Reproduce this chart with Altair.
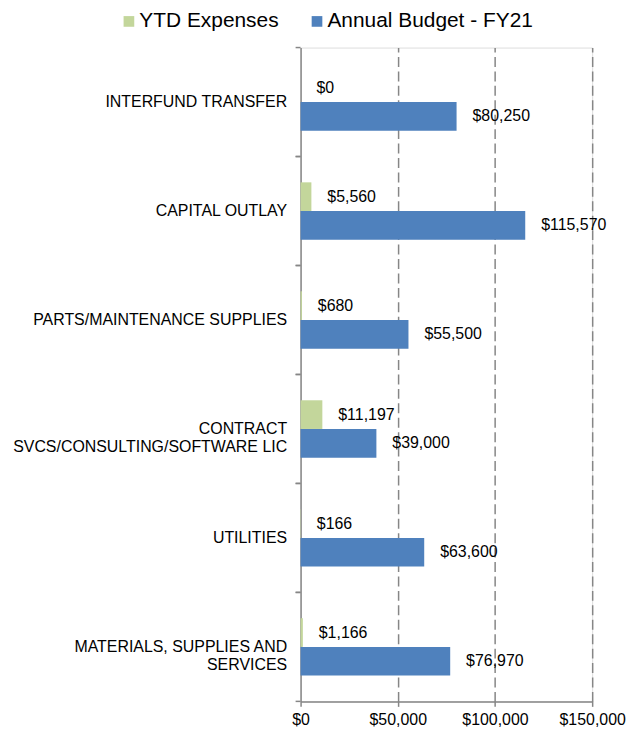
import json
import altair as alt
import pandas as pd

# ---- data ----
categories = [
    "INTERFUND TRANSFER",
    "CAPITAL OUTLAY",
    "PARTS/MAINTENANCE SUPPLIES",
    "CONTRACT SVCS/CONSULTING/SOFTWARE LIC",
    "UTILITIES",
    "MATERIALS, SUPPLIES AND SERVICES",
]
ytd_expenses = [0, 5560, 680, 11197, 166, 1166]
annual_budget = [80250, 115570, 55500, 39000, 63600, 76970]
series_names = ["YTD Expenses", "Annual Budget - FY21"]
x_ticks = [0, 50000, 100000, 150000]

# ---- style ----
FONT = "Liberation Sans"
GREEN = "#C3D69B"
BLUE = "#4F81BD"
GRAY = "#868686"
NBSP = "\u00a0"

# line breaks of the long category labels (centred lines inside a right-aligned block)
label_lines = {
    "CONTRACT SVCS/CONSULTING/SOFTWARE LIC": ["CONTRACT" + NBSP * 21, "SVCS/CONSULTING/SOFTWARE LIC"],
    "MATERIALS, SUPPLIES AND SERVICES": ["MATERIALS, SUPPLIES AND", "SERVICES" + NBSP * 15],
}
expr = "datum.value"
for k, v in label_lines.items():
    expr = f"datum.value == {json.dumps(k, ensure_ascii=False)} ? {json.dumps(v, ensure_ascii=False)} : ({expr})"

rows = []
for c, a, b in zip(categories, ytd_expenses, annual_budget):
    rows.append({"category": c, "series": series_names[0], "value": a})
    rows.append({"category": c, "series": series_names[1], "value": b})
df = pd.DataFrame(rows)
cat_df = pd.DataFrame({"category": categories})

y_scale = alt.Scale(domain=categories, paddingInner=0, paddingOuter=0)
yoff_scale = alt.Scale(domain=series_names, paddingInner=0, paddingOuter=0.9)

x_enc = alt.X(
    "value:Q",
    scale=alt.Scale(domain=[0, 150000], nice=False, zero=True),
    axis=alt.Axis(
        title=None,
        values=x_ticks,
        format="$,.0f",
        labelFont=FONT,
        labelFontSize=16,
        labelColor="#000000",
        labelPadding=5,
        tickSize=5,
        tickColor=GRAY,
        tickWidth=1.5,
        domainColor=GRAY,
        domainWidth=1.5,
        grid=True,
        gridColor=GRAY,
        gridWidth=1.5,
        gridDash=[10, 4.5],
        gridOpacity={"condition": {"test": "datum.value === 0", "value": 0}, "value": 1},
        labelFlush=False,
    ),
)

y_enc = alt.Y(
    "category:N",
    scale=y_scale,
    sort=categories,
    axis=alt.Axis(
        title=None,
        ticks=False,
        tickSize=0,
        labelPadding=14,
        labelFont=FONT,
        labelFontSize=16,
        labelColor="#000000",
        labelLimit=400,
        labelLineHeight=18,
        labelExpr=expr,
        domainColor=GRAY,
        domainWidth=1.5,
        grid=False,
    ),
)

base = alt.Chart(df)

bars = base.mark_bar(strokeWidth=0).encode(
    x=x_enc,
    y=y_enc,
    yOffset=alt.YOffset("series:N", scale=yoff_scale, sort=series_names),
    color=alt.Color(
        "series:N",
        scale=alt.Scale(domain=series_names, range=[GREEN, BLUE]),
        sort=series_names,
        legend=alt.Legend(
            title=None,
            orient="none",
            direction="horizontal",
            legendX=-185,
            legendY=-37,
            padding=0,
            symbolType="square",
            symbolSize=115,
            symbolStrokeWidth=0,
            symbolOffset=2,
            labelFont=FONT,
            labelFontSize=21,
            labelColor="#000000",
            labelOffset=0,
            columnPadding=25,
            labelLimit=400,
        ),
    ),
)

texts = base.mark_text(
    align="left", baseline="middle", dx=16, font=FONT, fontSize=16, color="#000000"
).encode(
    x=alt.X("value:Q"),
    y=alt.Y("category:N", sort=categories),
    yOffset=alt.YOffset("series:N", sort=series_names),
    text=alt.Text("value:Q", format="$,.0f"),
)

cat_ticks_top = alt.Chart(cat_df).mark_rule(color=GRAY, strokeWidth=1.5).encode(
    y=alt.Y("category:N", sort=categories, bandPosition=0),
    x=alt.value(-5),
    x2=alt.value(0),
)
cat_ticks_bottom = alt.Chart(cat_df).mark_rule(color=GRAY, strokeWidth=1.5).encode(
    y=alt.Y("category:N", sort=categories, bandPosition=1),
    x=alt.value(-5),
    x2=alt.value(0),
)

chart = (
    alt.layer(bars, texts, cat_ticks_top, cat_ticks_bottom)
    .properties(
        width=293,
        height=657,
        autosize="none",
        padding={"left": 294, "top": 38, "right": 34, "bottom": 25},
    )
    .configure_view(stroke=None)
    .configure(font=FONT)
)

chart.save("out.html", embed_options={"renderer": "svg", "actions": False})
